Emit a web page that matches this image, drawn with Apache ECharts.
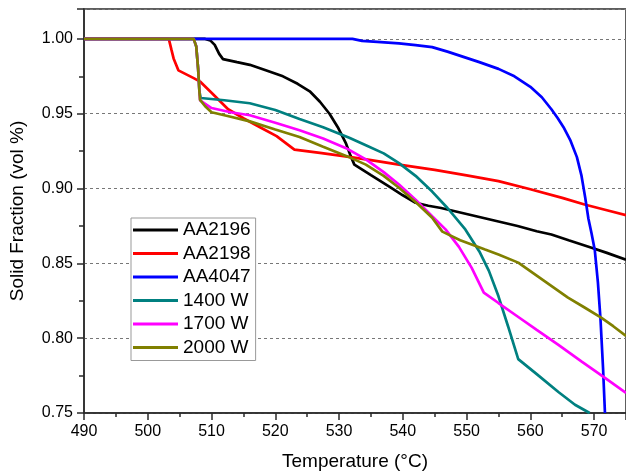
<!DOCTYPE html>
<html>
<head>
<meta charset="utf-8">
<script src="https://cdn.jsdelivr.net/npm/echarts@6/dist/echarts.min.js"></script>
<style>
html,body{margin:0;padding:0;background:#fff;}
#chart{width:626px;height:476px;}
</style>
</head>
<body>
<div id="chart"></div>
<script>
var seriesNames = ['AA2196','AA2198','AA4047','1400 W','1700 W','2000 W'];
var seriesColors = ['#000000','#ff0000','#0000ff','#008080','#ff00ff','#808000'];

// [temperature, solid fraction]
var aa2196 = [[490,1.0],[509.0,1.0],[509.8,0.999],[510.5,0.996],[511.2,0.99],[511.8,0.9865],[514,0.9845],[516,0.9827],[518.5,0.979],[521.2,0.975],[523.5,0.970],[525.4,0.965],[527,0.958],[528.5,0.950],[529.8,0.941],[531.1,0.930],[531.8,0.922],[532.4,0.916],[535,0.909],[538,0.901],[540,0.8955],[542,0.8905],[544,0.8885],[546,0.887],[550,0.883],[553,0.880],[555,0.878],[558,0.875],[561,0.8715],[563.3,0.8693],[566,0.8655],[569.6,0.8605],[572,0.857],[575,0.8525]];
var aa2198 = [[490,1.0],[503.3,1.0],[503.7,0.993],[504.05,0.987],[504.8,0.979],[507.2,0.9738],[508.2,0.9715],[510,0.964],[512.6,0.953],[515,0.947],[517.6,0.941],[520.2,0.935],[523,0.926],[527,0.9238],[531,0.9215],[535,0.919],[539.4,0.916],[545,0.9125],[550,0.9088],[555,0.905],[560,0.8995],[565,0.8938],[568.5,0.8893],[572,0.8855],[575,0.8822]];
var aa4047 = [[490,1.0],[532.1,1.0],[533.6,0.9987],[536,0.998],[539.4,0.997],[542,0.9958],[544.6,0.9945],[547,0.9915],[549.5,0.988],[552,0.9845],[555,0.980],[557.5,0.975],[560,0.968],[561.8,0.961],[563.3,0.953],[564.3,0.947],[565.2,0.941],[566.3,0.932],[567.3,0.921],[568,0.909],[568.6,0.894],[569.1,0.88],[569.6,0.87],[570.1,0.859],[570.6,0.837],[571,0.8127],[571.4,0.78],[571.7,0.75]];
var w1400 = [[490,1.0],[507.2,1.0],[507.6,0.995],[507.9,0.98],[508.1,0.965],[508.3,0.9605],[512,0.959],[516,0.957],[520,0.9525],[523.8,0.9465],[527.5,0.941],[531.6,0.934],[534.2,0.929],[537,0.9235],[539.4,0.917],[542,0.9085],[544.6,0.898],[547,0.887],[549.8,0.8727],[552,0.858],[553.5,0.845],[555,0.828],[556.5,0.808],[558.1,0.786],[561,0.776],[564.4,0.764],[567,0.7555],[569.3,0.75]];
var w1700 = [[490,1.0],[507.2,1.0],[507.6,0.995],[507.9,0.98],[508.1,0.965],[508.2,0.959],[510,0.9538],[513,0.951],[516,0.949],[520,0.944],[523.8,0.939],[527.5,0.9335],[531.1,0.927],[534.2,0.9195],[537,0.911],[539.4,0.9027],[542,0.8925],[544.6,0.8815],[546.7,0.8727],[548.8,0.861],[550.8,0.847],[552.7,0.8305],[555,0.8235],[558,0.8145],[561,0.8055],[564.4,0.7955],[568,0.7845],[571.7,0.7735],[575,0.7635]];
var w2000 = [[490,1.0],[507.2,1.0],[507.6,0.995],[507.9,0.98],[508.1,0.965],[508.2,0.9593],[509,0.955],[510,0.951],[513,0.948],[516,0.9449],[520,0.9395],[523.8,0.9345],[527.5,0.928],[531.3,0.9215],[534.2,0.916],[537,0.9085],[539.4,0.9005],[542,0.891],[544.6,0.8805],[546.2,0.8712],[549,0.8655],[552.9,0.8593],[555,0.856],[558.1,0.8505],[562,0.8388],[565.9,0.8271],[568.5,0.8205],[571.1,0.8138],[573,0.808],[575,0.8015]];
var allData = [aa2196, aa2198, aa4047, w1400, w1700, w2000];

var FONT = 'Arial, "Liberation Sans", sans-serif';
var chart = echarts.init(document.getElementById('chart'));

var series = [];
for (var i = 0; i < seriesNames.length; i++) {
    series.push({
        name: seriesNames[i],
        type: 'line',
        data: allData[i],
        showSymbol: false,
        symbol: 'none',
        smooth: false,
        color: seriesColors[i],
        lineStyle: {width: 2.7, color: seriesColors[i]},
        emphasis: {disabled: true}
    });
}

chart.setOption({
    animation: false,
    textStyle: {fontFamily: FONT},
    grid: {left: 83, top: 9, right: -2, bottom: 62, show: true, borderColor: '#2a2a2a', borderWidth: 1.5, backgroundColor: 'transparent'},
    legend: {
        orient: 'vertical', left: 131, top: 218,
        icon: 'rect', itemWidth: 45, itemHeight: 3, itemGap: 3.5,
        padding: [2, 5, 3, 2],
        borderColor: '#999', borderWidth: 1, backgroundColor: '#fff',
        textStyle: {fontSize: 19, color: '#000', fontFamily: FONT, lineHeight: 20},
        data: seriesNames
    },
    xAxis: {
        type: 'value', min: 490, max: 575, interval: 10,
        name: 'Temperature (°C)', nameLocation: 'middle', nameGap: 39,
        nameTextStyle: {fontSize: 19, color: '#000', fontFamily: FONT},
        axisLine: {lineStyle: {color: '#2a2a2a', width: 1.5}},
        axisTick: {show: true, length: 7, lineStyle: {color: '#2a2a2a', width: 1.5}},
        minorTick: {show: true, splitNumber: 2, length: 4, lineStyle: {color: '#2a2a2a', width: 1.5}},
        axisLabel: {fontSize: 16, color: '#000', margin: 11, fontFamily: FONT, showMaxLabel: false},
        splitLine: {show: false}
    },
    yAxis: {
        type: 'value', min: 0.75, max: 1.02, interval: 0.05,
        name: 'Solid Fraction (vol %)', nameLocation: 'middle', nameGap: 57,
        nameTextStyle: {fontSize: 19, color: '#000', fontFamily: FONT},
        axisLine: {lineStyle: {color: '#2a2a2a', width: 1.5}},
        axisTick: {show: true, length: 7, lineStyle: {color: '#2a2a2a', width: 1.5}},
        minorTick: {show: true, splitNumber: 2, length: 5, lineStyle: {color: '#2a2a2a', width: 1.5}},
        axisLabel: {
            fontSize: 16, color: '#000', margin: 11, fontFamily: FONT,
            formatter: function (v) { return Math.abs(v - 1.02) < 1e-6 ? '' : v.toFixed(2); }
        },
        splitLine: {show: true, lineStyle: {color: '#777', width: 1, type: [3, 3]}}
    },
    series: series
});
</script>
</body>
</html>
